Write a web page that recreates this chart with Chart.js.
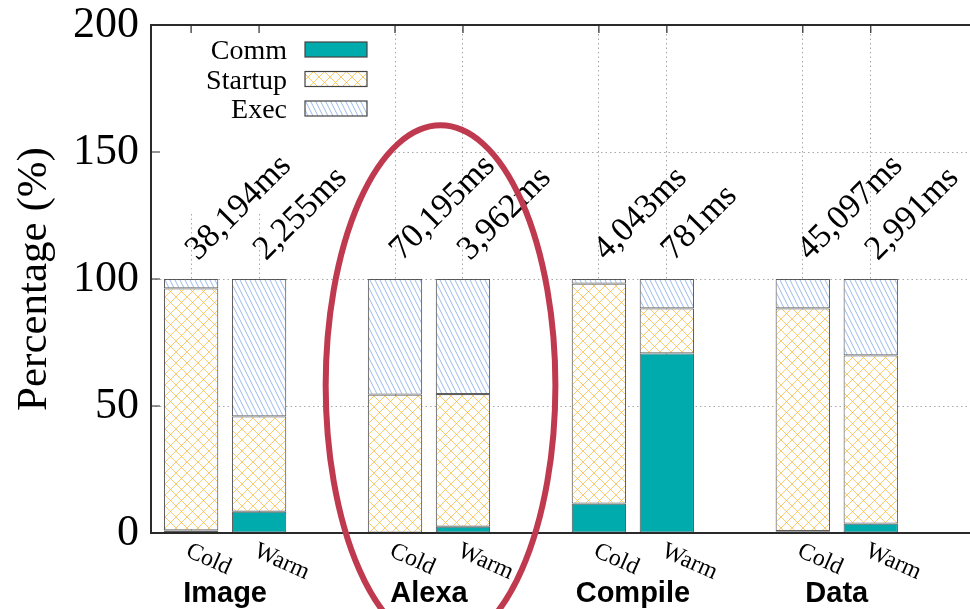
<!DOCTYPE html>
<html>
<head>
<meta charset="utf-8">
<script src="https://cdn.jsdelivr.net/npm/chart.js@4/dist/chart.umd.min.js"></script>
<style>
  html, body { margin: 0; padding: 0; background: #fff; overflow: hidden; }
  #wrap { width: 970px; height: 609px; }
</style>
</head>
<body>
<div id="wrap"><canvas id="c" width="970" height="609"></canvas></div>
<script>
// Workloads and run modes
const groups = ['Image', 'Alexa', 'Compile', 'Data'];
const runs = ['Cold', 'Warm'];
// slot index of each bar on the x axis (cold, warm per workload, one empty slot between)
const barSlots = [0, 1, 3, 4, 6, 7, 9, 10];

// share of total latency (%) per bar
const commPct    = [1.0, 8.4, 0.0, 2.5, 11.6, 70.7, 0.7, 3.7];
const startupPct = [95.3, 37.5, 54.5, 52.2, 86.6, 17.7, 87.7, 66.2];
const execPct    = [3.7, 54.1, 45.5, 45.3, 1.8, 11.6, 11.6, 30.1];

// total end-to-end latency printed above each bar
const totalTimes = ['38,194ms', '2,255ms', '70,195ms', '3,962ms', '4,043ms', '781ms', '45,097ms', '2,991ms'];
const totalLabelLevel = 107;

const yTicks = [0, 50, 100, 150, 200];
const seriesNames = ['Comm', 'Startup', 'Exec'];

// highlighted region around the Alexa pair (data units)
const highlight = { cx: 3.67, cy: 58, rx: 1.69, ry: 102.5 };

const SERIF = '"Liberation Serif", "Times New Roman", serif';
const SANS = '"Liberation Sans", Arial, sans-serif';

function crossHatch() {
  const s = 11, c = document.createElement('canvas');
  c.width = s; c.height = s;
  const g = c.getContext('2d');
  g.fillStyle = '#fff'; g.fillRect(0, 0, s, s);
  g.strokeStyle = 'rgba(246,178,40,0.8)';
  g.lineWidth = 0.85;
  g.beginPath();
  g.moveTo(0, 0); g.lineTo(s, s);
  g.moveTo(0, s); g.lineTo(s, 0);
  g.stroke();
  return g.createPattern(c, 'repeat');
}

function backHatch() {
  const w = 5, h = 10, c = document.createElement('canvas');
  c.width = w; c.height = h;
  const g = c.getContext('2d');
  g.fillStyle = '#fff'; g.fillRect(0, 0, w, h);
  g.strokeStyle = 'rgba(95,145,225,0.75)';
  g.lineWidth = 0.85;
  g.beginPath();
  g.moveTo(-w, -h); g.lineTo(2 * w, 2 * h);
  g.moveTo(0, -h); g.lineTo(2 * w, h);
  g.moveTo(-w, 0); g.lineTo(w, 2 * h);
  g.stroke();
  return g.createPattern(c, 'repeat');
}

const fills = ['#00abae', crossHatch(), backHatch()];
const seriesValues = [commPct, startupPct, execPct];

const datasets = seriesNames.map((name, k) => ({
  label: name,
  data: barSlots.map((x, i) => ({ x: x, y: seriesValues[k][i] })),
  backgroundColor: fills[k],
  borderColor: 'rgba(55,55,55,0.8)',
  borderWidth: 1.1,
  borderSkipped: false,
  categoryPercentage: 0.8,
  barPercentage: 1.0
}));

const overlay = {
  id: 'overlay',
  beforeDatasetsDraw(chart) {
    // opaque key background
    const { ctx, chartArea: a } = chart;
    ctx.save();
    ctx.fillStyle = '#fff';
    ctx.fillRect(a.left + 1, a.top + 1, 241, 185);
    ctx.restore();
  },
  afterDatasetsDraw(chart) {
    const { ctx, chartArea: a, scales } = chart;
    const xs = scales.x, ys = scales.y;
    ctx.save();

    // frame
    ctx.strokeStyle = '#2a2a2a';
    ctx.lineWidth = 2;
    ctx.beginPath();
    ctx.moveTo(a.right + 2, a.top);
    ctx.lineTo(a.left, a.top);
    ctx.lineTo(a.left, a.bottom);
    ctx.lineTo(a.right + 2, a.bottom);
    ctx.stroke();

    // inward tick marks
    ctx.lineWidth = 1.2;
    ctx.beginPath();
    yTicks.forEach(v => {
      const y = ys.getPixelForValue(v);
      ctx.moveTo(a.left, y); ctx.lineTo(a.left + 9, y);
    });
    barSlots.forEach(v => {
      const x = xs.getPixelForValue(v);
      ctx.moveTo(x, a.top); ctx.lineTo(x, a.top + 8);
    });
    ctx.stroke();

    // key
    ctx.font = '28px ' + SERIF;
    ctx.fillStyle = '#000';
    ctx.textAlign = 'right';
    ctx.textBaseline = 'alphabetic';
    chart.data.datasets.forEach((ds, k) => {
      const base = a.top + 34 + k * 29.5;
      ctx.fillText(ds.label, a.left + 136, base);
      ctx.fillStyle = ds.backgroundColor;
      ctx.fillRect(a.left + 154, base - 17, 62, 15);
      ctx.strokeStyle = '#444';
      ctx.lineWidth = 1.2;
      ctx.strokeRect(a.left + 154, base - 17, 62, 15);
      ctx.fillStyle = '#000';
    });

    // total latency labels
    ctx.font = '34px ' + SERIF;
    ctx.textAlign = 'left';
    totalTimes.forEach((t, i) => {
      const x = xs.getPixelForValue(barSlots[i]) + 7;
      const y = ys.getPixelForValue(totalLabelLevel);
      ctx.save();
      ctx.translate(x, y);
      ctx.rotate(-Math.PI / 4);
      ctx.fillText(t, 0, 0);
      ctx.restore();
    });

    // run labels under each bar
    ctx.font = '24px ' + SERIF;
    ctx.textBaseline = 'top';
    barSlots.forEach((s, i) => {
      const x = xs.getPixelForValue(s) + 1;
      ctx.save();
      ctx.translate(x, a.bottom + 6);
      ctx.rotate(24 * Math.PI / 180);
      ctx.fillText(runs[i % 2], 0, 0);
      ctx.restore();
    });

    // workload names
    ctx.font = 'bold 29px ' + SANS;
    ctx.textAlign = 'center';
    ctx.textBaseline = 'alphabetic';
    groups.forEach((g, j) => {
      const x = (xs.getPixelForValue(barSlots[2 * j]) + xs.getPixelForValue(barSlots[2 * j + 1])) / 2;
      ctx.fillText(g, x, a.bottom + 69);
    });

    // y axis title
    ctx.font = '43px ' + SERIF;
    ctx.save();
    ctx.translate(35, (a.top + a.bottom) / 2);
    ctx.rotate(-Math.PI / 2);
    ctx.textBaseline = 'middle';
    ctx.fillText('Percentage (%)', 0, 0);
    ctx.restore();

    ctx.restore();
  },
  afterDraw(chart) {
    const { ctx, scales } = chart;
    const xs = scales.x, ys = scales.y;
    const cx = xs.getPixelForValue(highlight.cx);
    const cy = ys.getPixelForValue(highlight.cy);
    const rx = Math.abs(xs.getPixelForValue(highlight.cx + highlight.rx) - cx);
    const ry = Math.abs(ys.getPixelForValue(highlight.cy + highlight.ry) - cy);
    ctx.save();
    ctx.strokeStyle = '#bf3a4f';
    ctx.lineWidth = 6;
    ctx.beginPath();
    ctx.ellipse(cx, cy, rx, ry, 0, 0, Math.PI * 2);
    ctx.stroke();
    ctx.restore();
  }
};

new Chart(document.getElementById('c'), {
  type: 'bar',
  data: { datasets },
  options: {
    responsive: false,
    devicePixelRatio: 1,
    animation: false,
    layout: { padding: { top: 25, bottom: 76, left: 0, right: 0 } },
    plugins: { legend: { display: false }, tooltip: { enabled: false } },
    scales: {
      x: {
        type: 'linear',
        stacked: true,
        offset: false,
        min: -0.59,
        max: 11.46,
        afterBuildTicks: s => { s.ticks = barSlots.map(v => ({ value: v })); },
        afterFit: s => { s.height = 0; s.paddingLeft = 0; s.paddingRight = 0; },
        ticks: { display: false },
        grid: { color: '#a8a8a8', lineWidth: 1, drawTicks: false, offset: false },
        border: { display: false, dash: [1.5, 3] }
      },
      y: {
        stacked: true,
        min: 0,
        max: 200,
        afterBuildTicks: s => { s.ticks = yTicks.map(v => ({ value: v })); },
        afterFit: s => { s.width = 151; s.paddingTop = 0; s.paddingBottom = 0; },
        ticks: { font: { family: SERIF, size: 44, lineHeight: 1 }, color: '#000', padding: 12 },
        grid: { color: '#a8a8a8', lineWidth: 1, drawTicks: false },
        border: { display: false, dash: [1.5, 3] }
      }
    }
  },
  plugins: [overlay]
});
</script>
</body>
</html>
